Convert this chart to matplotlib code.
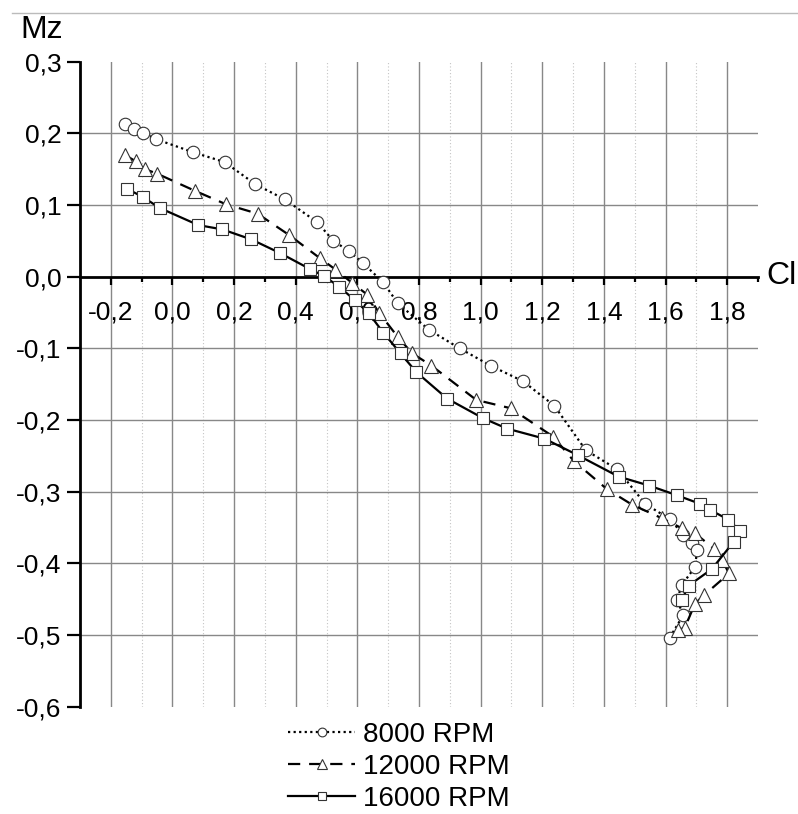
import numpy as np
import matplotlib
matplotlib.use("Agg")
import matplotlib.pyplot as plt
from matplotlib.ticker import FuncFormatter
from matplotlib.lines import Line2D

plt.rcParams['font.family'] = ['Liberation Sans', 'DejaVu Sans']

# data
cl_8000 = [-0.154, -0.124, -0.094, -0.054, 0.068, 0.169, 0.269, 0.364, 0.470, 0.522,
           0.572, 0.618, 0.684, 0.731, 0.832, 0.932, 1.034, 1.138, 1.239, 1.341,
           1.444, 1.534, 1.613, 1.658, 1.686, 1.702, 1.696, 1.653, 1.637, 1.658, 1.613]
mz_8000 = [0.213, 0.206, 0.201, 0.192, 0.1735, 0.160, 0.129, 0.108, 0.076, 0.050,
           0.036, 0.019, -0.008, -0.037, -0.074, -0.100, -0.1245, -0.146, -0.180, -0.242,
           -0.269, -0.317, -0.338, -0.360, -0.372, -0.382, -0.405, -0.430, -0.451, -0.472, -0.504]

cl_12000 = [-0.155, -0.119, -0.089, -0.051, 0.072, 0.174, 0.276, 0.379, 0.478, 0.529,
            0.584, 0.632, 0.670, 0.731, 0.778, 0.840, 0.986, 1.097, 1.235, 1.302,
            1.410, 1.491, 1.588, 1.653, 1.696, 1.758, 1.783, 1.806, 1.726, 1.696, 1.662, 1.642]
mz_12000 = [0.170, 0.161, 0.150, 0.144, 0.120, 0.101, 0.088, 0.058, 0.026, 0.010,
            -0.009, -0.025, -0.050, -0.084, -0.107, -0.124, -0.172, -0.1835, -0.223, -0.257,
            -0.2965, -0.318, -0.337, -0.351, -0.358, -0.380, -0.395, -0.414, -0.444, -0.456, -0.490, -0.493]

cl_16000 = [-0.149, -0.095, -0.042, 0.084, 0.162, 0.256, 0.349, 0.445, 0.491, 0.541,
            0.591, 0.637, 0.684, 0.740, 0.791, 0.891, 1.008, 1.086, 1.207, 1.315,
            1.448, 1.547, 1.637, 1.7125, 1.743, 1.804, 1.842, 1.821, 1.750, 1.675, 1.653]
mz_16000 = [0.123, 0.111, 0.096, 0.072, 0.066, 0.052, 0.033, 0.011, 0.001, -0.014,
            -0.0325, -0.051, -0.078, -0.107, -0.133, -0.170, -0.1975, -0.212, -0.226, -0.249,
            -0.279, -0.2915, -0.305, -0.317, -0.325, -0.339, -0.355, -0.370, -0.408, -0.431, -0.451]

labels = ["8000 RPM", "12000 RPM", "16000 RPM"]

x_major = np.arange(-0.2, 1.81, 0.2)
x_minor = np.arange(-0.1, 1.95, 0.2)
y_major = np.arange(-0.6, 0.31, 0.1)

fs = 19


def comma(v, pos):
    s = f"{v:.1f}"
    if s == "-0.0":
        s = "0.0"
    return s.replace('.', ',')


fig = plt.figure(figsize=(7.98, 8.14), dpi=100)
ax = fig.add_axes([80 / 798, 1 - 706.7 / 814, 678 / 798, 645 / 814])
ax.set_xlim(-0.3, 1.9)
ax.set_ylim(-0.6, 0.3)

# grid, drawn by hand so the edge lines are left out
for x in x_major:
    ax.axvline(x, color='#888888', lw=1.0, zorder=1)
for x in x_minor[:-1]:
    ax.axvline(x, color='#c4c4c4', lw=0.8, ls=(0, (1, 2)), zorder=1)
for y in y_major[1:-1]:
    if abs(y) > 1e-9:
        ax.axhline(y, color='#888888', lw=1.0, zorder=1)

mk = dict(markerfacecolor='white', markeredgecolor='#333333', markeredgewidth=0.8)
ax.plot(cl_8000, mz_8000, color='black', lw=1.6, ls=(0, (1, 1.5)),
        marker='o', markersize=9, label=labels[0], zorder=3, **mk)
ax.plot(cl_12000, mz_12000, color='black', lw=1.6, ls=(0, (5.5, 4)),
        marker='^', markersize=9.5, label=labels[1], zorder=3, **mk)
ax.plot(cl_16000, mz_16000, color='black', lw=1.6, ls='-',
        marker='s', markersize=8, label=labels[2], zorder=3, **mk)

ax.spines['top'].set_visible(False)
ax.spines['right'].set_visible(False)
ax.spines['bottom'].set_position(('data', 0))
ax.spines['bottom'].set_linewidth(2)
ax.spines['left'].set_linewidth(2)
ax.spines['bottom'].set_zorder(2)

ax.set_xticks(x_major)
ax.set_xticks(x_minor, minor=True)
ax.set_yticks(y_major)
ax.xaxis.set_major_formatter(FuncFormatter(comma))
ax.yaxis.set_major_formatter(FuncFormatter(comma))
ax.tick_params(axis='x', which='major', direction='out', length=6, width=1.6,
               labelsize=fs, pad=11)
ax.tick_params(axis='x', which='minor', direction='out', length=3.5, width=1.6)
ax.tick_params(axis='y', which='major', direction='out', length=9.5, width=1.6,
               labelsize=fs, pad=4)

fig.text(20 / 798, 1 - 38 / 814, "Mz", fontsize=23, ha='left', va='baseline')
fig.text(766 / 798, 1 - 284 / 814, "Cl", fontsize=23, ha='left', va='baseline')

# thin grey rule at the very top
fig.add_artist(Line2D([12 / 798, 1], [1 - 13 / 814, 1 - 13 / 814],
                      transform=fig.transFigure, color='#bbbbbb', lw=1))

fig.legend(loc='center', bbox_to_anchor=(399 / 798, 1 - 767 / 814), frameon=False,
           fontsize=20, markerscale=0.7, handlelength=2.4, handletextpad=0.3,
           labelspacing=0.22, borderpad=0)

fig.savefig("out.png", dpi=100)
